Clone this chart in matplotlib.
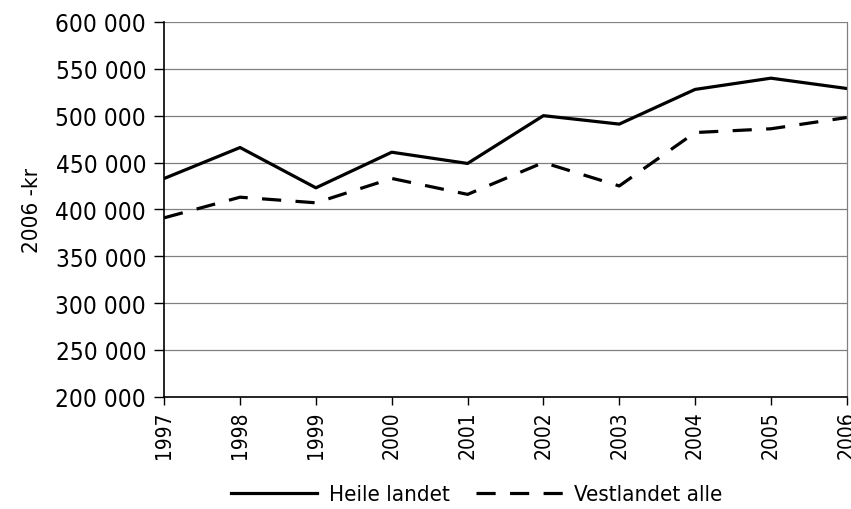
import matplotlib.pyplot as plt
from matplotlib.ticker import FuncFormatter

years = [1997, 1998, 1999, 2000, 2001, 2002, 2003, 2004, 2005, 2006]
heile_landet = [433000, 466000, 423000, 461000, 449000, 500000, 491000, 528000, 540000, 529000]
vestlandet_alle = [391000, 413000, 407000, 433000, 416000, 450000, 425000, 482000, 486000, 498000]

plt.rcParams['font.family'] = ['DejaVu Sans']
plt.rcParams['font.stretch'] = 'condensed'

fig = plt.figure(figsize=(8.51, 5.10), dpi=100)
ax = fig.add_axes([0.193, 0.22, 0.802, 0.735])

ax.plot(years, heile_landet, color='black', lw=2.3, label='Heile landet')
ax.plot(years, vestlandet_alle, color='black', lw=2.3, linestyle=(0, (6, 4.5)),
        label='Vestlandet alle')

ax.set_xlim(1997, 2006)
ax.set_ylim(200000, 600000)
ax.set_yticks(range(200000, 600001, 50000))
ax.set_xticks(years)
ax.yaxis.set_major_formatter(FuncFormatter(lambda v, p: f"{int(v):,}".replace(",", " ")))
ax.grid(axis='y', color='#808080', lw=0.9)
ax.set_axisbelow(True)

ax.spines['top'].set_visible(False)
ax.spines['right'].set_color('#808080')
ax.spines['right'].set_linewidth(0.9)
ax.spines['left'].set_linewidth(1.2)
ax.spines['bottom'].set_linewidth(1.2)

ax.tick_params(axis='y', labelsize=17.5, length=7, width=1, direction='out', pad=6)
ax.tick_params(axis='x', labelsize=15, length=6, width=1, direction='out', labelrotation=90, pad=4)
ax.set_ylabel('2006 -kr', fontsize=16, labelpad=10)

fig.legend(loc='lower center', bbox_to_anchor=(0.56, -0.03), ncol=2, frameon=False,
           fontsize=16, handlelength=3.9, columnspacing=1.2, handletextpad=0.5)

fig.savefig('out.png', dpi=100)
